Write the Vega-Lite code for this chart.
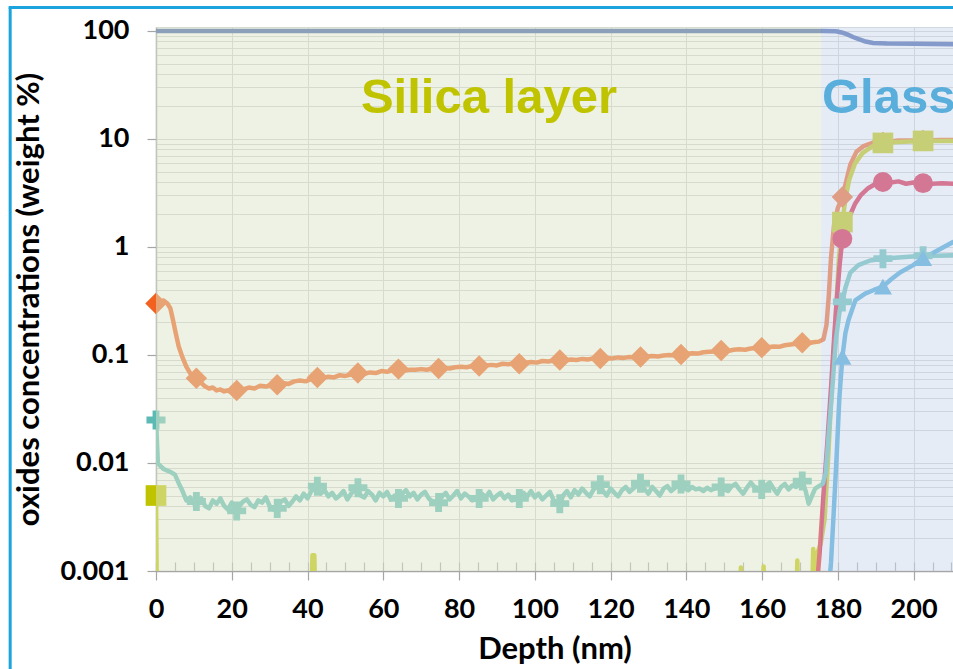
{
  "$schema": "https://vega.github.io/schema/vega-lite/v6.json",
  "width": 797,
  "height": 544,
  "autosize": {"type": "none"},
  "padding": {"left": 156, "top": 27, "right": 0, "bottom": 98},
  "background": "white",
  "config": {"view": {"stroke": "#D4D4D4", "strokeWidth": 1}, "font": "Lato"},
  "datasets": {
    "regions": [
      {"region": "Silica layer", "start": 0, "end": 175.6},
      {"region": "Glass", "start": 175.6, "end": 210.4}
    ],
    "curves": [
      {"series": "SiO2", "depth": 0, "conc": 100},
      {"series": "SiO2", "depth": 176, "conc": 99.8},
      {"series": "SiO2", "depth": 179.5, "conc": 99.5},
      {"series": "SiO2", "depth": 181, "conc": 97},
      {"series": "SiO2", "depth": 182.5, "conc": 93},
      {"series": "SiO2", "depth": 184, "conc": 88},
      {"series": "SiO2", "depth": 185.5, "conc": 84},
      {"series": "SiO2", "depth": 187, "conc": 80.5},
      {"series": "SiO2", "depth": 189.3, "conc": 77.5},
      {"series": "SiO2", "depth": 193, "conc": 76.5},
      {"series": "SiO2", "depth": 200, "conc": 76},
      {"series": "SiO2", "depth": 210.4, "conc": 75.5},

      {"series": "ox2", "depth": 0, "conc": 0.30},
      {"series": "ox2", "depth": 1, "conc": 0.31},
      {"series": "ox2", "depth": 2, "conc": 0.32},
      {"series": "ox2", "depth": 3, "conc": 0.30},
      {"series": "ox2", "depth": 3.8, "conc": 0.27},
      {"series": "ox2", "depth": 4.5, "conc": 0.21},
      {"series": "ox2", "depth": 5.2, "conc": 0.16},
      {"series": "ox2", "depth": 6, "conc": 0.12},
      {"series": "ox2", "depth": 7, "conc": 0.095},
      {"series": "ox2", "depth": 8, "conc": 0.078},
      {"series": "ox2", "depth": 9, "conc": 0.068},
      {"series": "ox2", "depth": 10.66, "conc": 0.061},
      {"series": "ox2", "depth": 12, "conc": 0.055},
      {"series": "ox2", "depth": 13, "conc": 0.051},
      {"series": "ox2", "depth": 14, "conc": 0.049},
      {"series": "ox2", "depth": 15, "conc": 0.050},
      {"series": "ox2", "depth": 16, "conc": 0.047},
      {"series": "ox2", "depth": 17, "conc": 0.048},
      {"series": "ox2", "depth": 18, "conc": 0.046},
      {"series": "ox2", "depth": 19, "conc": 0.047},
      {"series": "ox2", "depth": 20, "conc": 0.045},
      {"series": "ox2", "depth": 21.3, "conc": 0.047},
      {"series": "ox2", "depth": 23, "conc": 0.048},
      {"series": "ox2", "depth": 24.5, "conc": 0.050},
      {"series": "ox2", "depth": 26, "conc": 0.049},
      {"series": "ox2", "depth": 27.5, "conc": 0.052},
      {"series": "ox2", "depth": 29, "conc": 0.051},
      {"series": "ox2", "depth": 30.5, "conc": 0.053},
      {"series": "ox2", "depth": 32, "conc": 0.053},
      {"series": "ox2", "depth": 33.5, "conc": 0.055},
      {"series": "ox2", "depth": 35, "conc": 0.054},
      {"series": "ox2", "depth": 36.5, "conc": 0.057},
      {"series": "ox2", "depth": 38, "conc": 0.058},
      {"series": "ox2", "depth": 39.5, "conc": 0.057},
      {"series": "ox2", "depth": 41, "conc": 0.060},
      {"series": "ox2", "depth": 42.6, "conc": 0.062},
      {"series": "ox2", "depth": 44, "conc": 0.061},
      {"series": "ox2", "depth": 45.5, "conc": 0.063},
      {"series": "ox2", "depth": 47, "conc": 0.062},
      {"series": "ox2", "depth": 48.5, "conc": 0.065},
      {"series": "ox2", "depth": 50, "conc": 0.064},
      {"series": "ox2", "depth": 51.5, "conc": 0.066},
      {"series": "ox2", "depth": 53.3, "conc": 0.068},
      {"series": "ox2", "depth": 55, "conc": 0.067},
      {"series": "ox2", "depth": 56.5, "conc": 0.069},
      {"series": "ox2", "depth": 58, "conc": 0.068},
      {"series": "ox2", "depth": 59.5, "conc": 0.071},
      {"series": "ox2", "depth": 61, "conc": 0.070},
      {"series": "ox2", "depth": 62.5, "conc": 0.072},
      {"series": "ox2", "depth": 64, "conc": 0.074},
      {"series": "ox2", "depth": 65.5, "conc": 0.072},
      {"series": "ox2", "depth": 67, "conc": 0.073},
      {"series": "ox2", "depth": 68.5, "conc": 0.073},
      {"series": "ox2", "depth": 70, "conc": 0.074},
      {"series": "ox2", "depth": 71.5, "conc": 0.073},
      {"series": "ox2", "depth": 73, "conc": 0.075},
      {"series": "ox2", "depth": 74.6, "conc": 0.075},
      {"series": "ox2", "depth": 76, "conc": 0.076},
      {"series": "ox2", "depth": 77.5, "conc": 0.075},
      {"series": "ox2", "depth": 79, "conc": 0.077},
      {"series": "ox2", "depth": 80.5, "conc": 0.078},
      {"series": "ox2", "depth": 82, "conc": 0.077},
      {"series": "ox2", "depth": 83.5, "conc": 0.079},
      {"series": "ox2", "depth": 85.3, "conc": 0.079},
      {"series": "ox2", "depth": 87, "conc": 0.080},
      {"series": "ox2", "depth": 88.5, "conc": 0.081},
      {"series": "ox2", "depth": 90, "conc": 0.080},
      {"series": "ox2", "depth": 91.5, "conc": 0.083},
      {"series": "ox2", "depth": 93, "conc": 0.082},
      {"series": "ox2", "depth": 94.5, "conc": 0.084},
      {"series": "ox2", "depth": 95.9, "conc": 0.083},
      {"series": "ox2", "depth": 97.5, "conc": 0.085},
      {"series": "ox2", "depth": 99, "conc": 0.086},
      {"series": "ox2", "depth": 100.5, "conc": 0.085},
      {"series": "ox2", "depth": 102, "conc": 0.088},
      {"series": "ox2", "depth": 103.5, "conc": 0.087},
      {"series": "ox2", "depth": 105, "conc": 0.089},
      {"series": "ox2", "depth": 106.6, "conc": 0.090},
      {"series": "ox2", "depth": 108, "conc": 0.089},
      {"series": "ox2", "depth": 109.5, "conc": 0.091},
      {"series": "ox2", "depth": 111, "conc": 0.090},
      {"series": "ox2", "depth": 112.5, "conc": 0.092},
      {"series": "ox2", "depth": 114, "conc": 0.091},
      {"series": "ox2", "depth": 115.5, "conc": 0.093},
      {"series": "ox2", "depth": 117.3, "conc": 0.093},
      {"series": "ox2", "depth": 119, "conc": 0.094},
      {"series": "ox2", "depth": 120.5, "conc": 0.093},
      {"series": "ox2", "depth": 122, "conc": 0.095},
      {"series": "ox2", "depth": 123.5, "conc": 0.094},
      {"series": "ox2", "depth": 125, "conc": 0.096},
      {"series": "ox2", "depth": 126.5, "conc": 0.095},
      {"series": "ox2", "depth": 127.9, "conc": 0.096},
      {"series": "ox2", "depth": 129.5, "conc": 0.097},
      {"series": "ox2", "depth": 131, "conc": 0.098},
      {"series": "ox2", "depth": 132.5, "conc": 0.097},
      {"series": "ox2", "depth": 134, "conc": 0.099},
      {"series": "ox2", "depth": 135.5, "conc": 0.100},
      {"series": "ox2", "depth": 137, "conc": 0.099},
      {"series": "ox2", "depth": 138.6, "conc": 0.101},
      {"series": "ox2", "depth": 140, "conc": 0.102},
      {"series": "ox2", "depth": 141.5, "conc": 0.104},
      {"series": "ox2", "depth": 143, "conc": 0.103},
      {"series": "ox2", "depth": 144.5, "conc": 0.106},
      {"series": "ox2", "depth": 146, "conc": 0.107},
      {"series": "ox2", "depth": 147.5, "conc": 0.108},
      {"series": "ox2", "depth": 149.2, "conc": 0.110},
      {"series": "ox2", "depth": 151, "conc": 0.109},
      {"series": "ox2", "depth": 152.5, "conc": 0.112},
      {"series": "ox2", "depth": 154, "conc": 0.113},
      {"series": "ox2", "depth": 155.5, "conc": 0.112},
      {"series": "ox2", "depth": 157, "conc": 0.115},
      {"series": "ox2", "depth": 158.5, "conc": 0.116},
      {"series": "ox2", "depth": 159.9, "conc": 0.117},
      {"series": "ox2", "depth": 161.5, "conc": 0.118},
      {"series": "ox2", "depth": 163, "conc": 0.120},
      {"series": "ox2", "depth": 164.5, "conc": 0.119},
      {"series": "ox2", "depth": 166, "conc": 0.123},
      {"series": "ox2", "depth": 167.5, "conc": 0.125},
      {"series": "ox2", "depth": 169, "conc": 0.127},
      {"series": "ox2", "depth": 170.6, "conc": 0.130},
      {"series": "ox2", "depth": 172, "conc": 0.128},
      {"series": "ox2", "depth": 173.5, "conc": 0.131},
      {"series": "ox2", "depth": 175, "conc": 0.133},
      {"series": "ox2", "depth": 176.2, "conc": 0.14},
      {"series": "ox2", "depth": 177, "conc": 0.19},
      {"series": "ox2", "depth": 177.6, "conc": 0.35},
      {"series": "ox2", "depth": 178.2, "conc": 0.8},
      {"series": "ox2", "depth": 179, "conc": 1.6},
      {"series": "ox2", "depth": 180, "conc": 2.3},
      {"series": "ox2", "depth": 181.2, "conc": 2.9},
      {"series": "ox2", "depth": 182.3, "conc": 4.2},
      {"series": "ox2", "depth": 183.3, "conc": 5.8},
      {"series": "ox2", "depth": 184.9, "conc": 7.6},
      {"series": "ox2", "depth": 186.8, "conc": 8.6},
      {"series": "ox2", "depth": 189.5, "conc": 9.3},
      {"series": "ox2", "depth": 191.9, "conc": 9.3},
      {"series": "ox2", "depth": 196, "conc": 9.7},
      {"series": "ox2", "depth": 202.5, "conc": 9.7},
      {"series": "ox2", "depth": 207, "conc": 9.8},
      {"series": "ox2", "depth": 210.4, "conc": 9.8},

      {"series": "ox3", "depth": 0, "conc": 0.005},
      {"series": "ox3", "depth": 0.3, "conc": 0.0003},
      {"series": "ox3", "depth": 40.9, "conc": 0.0003},
      {"series": "ox3", "depth": 41.3, "conc": 0.0014},
      {"series": "ox3", "depth": 41.8, "conc": 0.0014},
      {"series": "ox3", "depth": 42.2, "conc": 0.0003},
      {"series": "ox3", "depth": 154.0, "conc": 0.0003},
      {"series": "ox3", "depth": 154.4, "conc": 0.00108},
      {"series": "ox3", "depth": 154.8, "conc": 0.0003},
      {"series": "ox3", "depth": 160.0, "conc": 0.0003},
      {"series": "ox3", "depth": 160.4, "conc": 0.0011},
      {"series": "ox3", "depth": 160.8, "conc": 0.0003},
      {"series": "ox3", "depth": 168.9, "conc": 0.0003},
      {"series": "ox3", "depth": 169.3, "conc": 0.00125},
      {"series": "ox3", "depth": 169.7, "conc": 0.0003},
      {"series": "ox3", "depth": 173.0, "conc": 0.0003},
      {"series": "ox3", "depth": 173.5, "conc": 0.0016},
      {"series": "ox3", "depth": 174.0, "conc": 0.0009},
      {"series": "ox3", "depth": 174.7, "conc": 0.0015},
      {"series": "ox3", "depth": 175.5, "conc": 0.0018},
      {"series": "ox3", "depth": 176.5, "conc": 0.003},
      {"series": "ox3", "depth": 177.5, "conc": 0.012},
      {"series": "ox3", "depth": 178.5, "conc": 0.06},
      {"series": "ox3", "depth": 179.5, "conc": 0.25},
      {"series": "ox3", "depth": 180.3, "conc": 0.8},
      {"series": "ox3", "depth": 181.2, "conc": 1.7},
      {"series": "ox3", "depth": 182.0, "conc": 2.8},
      {"series": "ox3", "depth": 183.0, "conc": 4.2},
      {"series": "ox3", "depth": 184.5, "conc": 5.9},
      {"series": "ox3", "depth": 186.5, "conc": 7.4},
      {"series": "ox3", "depth": 189, "conc": 8.5},
      {"series": "ox3", "depth": 191.9, "conc": 9.2},
      {"series": "ox3", "depth": 196, "conc": 9.4},
      {"series": "ox3", "depth": 202.5, "conc": 9.6},
      {"series": "ox3", "depth": 210.4, "conc": 9.6},

      {"series": "ox4", "depth": 165, "conc": 0.0002},
      {"series": "ox4", "depth": 174.3, "conc": 0.0006},
      {"series": "ox4", "depth": 175.2, "conc": 0.0015},
      {"series": "ox4", "depth": 176.1, "conc": 0.0045},
      {"series": "ox4", "depth": 177.2, "conc": 0.015},
      {"series": "ox4", "depth": 178.2, "conc": 0.05},
      {"series": "ox4", "depth": 179, "conc": 0.14},
      {"series": "ox4", "depth": 179.7, "conc": 0.32},
      {"series": "ox4", "depth": 180.5, "conc": 0.7},
      {"series": "ox4", "depth": 181.2, "conc": 1.19},
      {"series": "ox4", "depth": 182.2, "conc": 1.55},
      {"series": "ox4", "depth": 183.3, "conc": 2.0},
      {"series": "ox4", "depth": 184.5, "conc": 2.5},
      {"series": "ox4", "depth": 186, "conc": 3.0},
      {"series": "ox4", "depth": 188, "conc": 3.5},
      {"series": "ox4", "depth": 190, "conc": 3.85},
      {"series": "ox4", "depth": 191.9, "conc": 4.0},
      {"series": "ox4", "depth": 194, "conc": 3.95},
      {"series": "ox4", "depth": 196, "conc": 4.05},
      {"series": "ox4", "depth": 198, "conc": 3.85},
      {"series": "ox4", "depth": 200, "conc": 3.95},
      {"series": "ox4", "depth": 202.5, "conc": 3.9},
      {"series": "ox4", "depth": 205, "conc": 3.85},
      {"series": "ox4", "depth": 207.5, "conc": 3.9},
      {"series": "ox4", "depth": 210.4, "conc": 3.85},

      {"series": "ox5", "depth": 0, "conc": 0.025},
      {"series": "ox5", "depth": 0.5, "conc": 0.0100},
      {"series": "ox5", "depth": 1, "conc": 0.0095},
      {"series": "ox5", "depth": 2, "conc": 0.0088},
      {"series": "ox5", "depth": 3, "conc": 0.0085},
      {"series": "ox5", "depth": 4, "conc": 0.0082},
      {"series": "ox5", "depth": 5, "conc": 0.0078},
      {"series": "ox5", "depth": 6, "conc": 0.0065},
      {"series": "ox5", "depth": 7, "conc": 0.0055},
      {"series": "ox5", "depth": 8, "conc": 0.0045},
      {"series": "ox5", "depth": 9, "conc": 0.0048},
      {"series": "ox5", "depth": 10, "conc": 0.0042},
      {"series": "ox5", "depth": 10.66, "conc": 0.0044},
      {"series": "ox5", "depth": 12, "conc": 0.0047},
      {"series": "ox5", "depth": 13, "conc": 0.0040},
      {"series": "ox5", "depth": 14, "conc": 0.0038},
      {"series": "ox5", "depth": 15, "conc": 0.0045},
      {"series": "ox5", "depth": 16, "conc": 0.0042},
      {"series": "ox5", "depth": 17, "conc": 0.0047},
      {"series": "ox5", "depth": 18, "conc": 0.0040},
      {"series": "ox5", "depth": 19, "conc": 0.0037},
      {"series": "ox5", "depth": 20, "conc": 0.0043},
      {"series": "ox5", "depth": 21.3, "conc": 0.0036},
      {"series": "ox5", "depth": 22, "conc": 0.0040},
      {"series": "ox5", "depth": 23, "conc": 0.0044},
      {"series": "ox5", "depth": 24, "conc": 0.0046},
      {"series": "ox5", "depth": 25, "conc": 0.0041},
      {"series": "ox5", "depth": 26, "conc": 0.0039},
      {"series": "ox5", "depth": 27, "conc": 0.0045},
      {"series": "ox5", "depth": 28, "conc": 0.0043},
      {"series": "ox5", "depth": 29, "conc": 0.0048},
      {"series": "ox5", "depth": 30, "conc": 0.0040},
      {"series": "ox5", "depth": 31, "conc": 0.0037},
      {"series": "ox5", "depth": 32, "conc": 0.0038},
      {"series": "ox5", "depth": 33, "conc": 0.0044},
      {"series": "ox5", "depth": 34, "conc": 0.0046},
      {"series": "ox5", "depth": 35, "conc": 0.0040},
      {"series": "ox5", "depth": 36, "conc": 0.0044},
      {"series": "ox5", "depth": 37, "conc": 0.0049},
      {"series": "ox5", "depth": 38, "conc": 0.0045},
      {"series": "ox5", "depth": 39, "conc": 0.0052},
      {"series": "ox5", "depth": 40, "conc": 0.0047},
      {"series": "ox5", "depth": 41, "conc": 0.0055},
      {"series": "ox5", "depth": 42.6, "conc": 0.0061},
      {"series": "ox5", "depth": 43.5, "conc": 0.0052},
      {"series": "ox5", "depth": 44.5, "conc": 0.0056},
      {"series": "ox5", "depth": 45.5, "conc": 0.0049},
      {"series": "ox5", "depth": 46.5, "conc": 0.0053},
      {"series": "ox5", "depth": 47.5, "conc": 0.0047},
      {"series": "ox5", "depth": 48.5, "conc": 0.0050},
      {"series": "ox5", "depth": 49.5, "conc": 0.0055},
      {"series": "ox5", "depth": 50.5, "conc": 0.0046},
      {"series": "ox5", "depth": 51.5, "conc": 0.0052},
      {"series": "ox5", "depth": 52.5, "conc": 0.0056},
      {"series": "ox5", "depth": 53.3, "conc": 0.0059},
      {"series": "ox5", "depth": 54, "conc": 0.0050},
      {"series": "ox5", "depth": 55, "conc": 0.0048},
      {"series": "ox5", "depth": 56, "conc": 0.0055},
      {"series": "ox5", "depth": 57, "conc": 0.0051},
      {"series": "ox5", "depth": 58, "conc": 0.0045},
      {"series": "ox5", "depth": 59, "conc": 0.0053},
      {"series": "ox5", "depth": 60, "conc": 0.0049},
      {"series": "ox5", "depth": 61, "conc": 0.0054},
      {"series": "ox5", "depth": 62, "conc": 0.0046},
      {"series": "ox5", "depth": 63, "conc": 0.0050},
      {"series": "ox5", "depth": 64, "conc": 0.0047},
      {"series": "ox5", "depth": 65, "conc": 0.0052},
      {"series": "ox5", "depth": 66, "conc": 0.0056},
      {"series": "ox5", "depth": 67, "conc": 0.0049},
      {"series": "ox5", "depth": 68, "conc": 0.0053},
      {"series": "ox5", "depth": 69, "conc": 0.0046},
      {"series": "ox5", "depth": 70, "conc": 0.0051},
      {"series": "ox5", "depth": 71, "conc": 0.0054},
      {"series": "ox5", "depth": 72, "conc": 0.0047},
      {"series": "ox5", "depth": 73, "conc": 0.0044},
      {"series": "ox5", "depth": 74.6, "conc": 0.0043},
      {"series": "ox5", "depth": 75.5, "conc": 0.0049},
      {"series": "ox5", "depth": 76.5, "conc": 0.0053},
      {"series": "ox5", "depth": 77.5, "conc": 0.0046},
      {"series": "ox5", "depth": 78.5, "conc": 0.0050},
      {"series": "ox5", "depth": 79.5, "conc": 0.0055},
      {"series": "ox5", "depth": 80.5, "conc": 0.0047},
      {"series": "ox5", "depth": 81.5, "conc": 0.0052},
      {"series": "ox5", "depth": 82.5, "conc": 0.0049},
      {"series": "ox5", "depth": 83.5, "conc": 0.0045},
      {"series": "ox5", "depth": 85.3, "conc": 0.0047},
      {"series": "ox5", "depth": 86, "conc": 0.0052},
      {"series": "ox5", "depth": 87, "conc": 0.0048},
      {"series": "ox5", "depth": 88, "conc": 0.0054},
      {"series": "ox5", "depth": 89, "conc": 0.0046},
      {"series": "ox5", "depth": 90, "conc": 0.0050},
      {"series": "ox5", "depth": 91, "conc": 0.0053},
      {"series": "ox5", "depth": 92, "conc": 0.0047},
      {"series": "ox5", "depth": 93, "conc": 0.0051},
      {"series": "ox5", "depth": 94, "conc": 0.0045},
      {"series": "ox5", "depth": 95.9, "conc": 0.0047},
      {"series": "ox5", "depth": 97, "conc": 0.0053},
      {"series": "ox5", "depth": 98, "conc": 0.0049},
      {"series": "ox5", "depth": 99, "conc": 0.0055},
      {"series": "ox5", "depth": 100, "conc": 0.0048},
      {"series": "ox5", "depth": 101, "conc": 0.0052},
      {"series": "ox5", "depth": 102, "conc": 0.0046},
      {"series": "ox5", "depth": 103, "conc": 0.0050},
      {"series": "ox5", "depth": 104, "conc": 0.0054},
      {"series": "ox5", "depth": 105, "conc": 0.0045},
      {"series": "ox5", "depth": 106.6, "conc": 0.0042},
      {"series": "ox5", "depth": 107.5, "conc": 0.0050},
      {"series": "ox5", "depth": 108.5, "conc": 0.0055},
      {"series": "ox5", "depth": 109.5, "conc": 0.0048},
      {"series": "ox5", "depth": 110.5, "conc": 0.0056},
      {"series": "ox5", "depth": 111.5, "conc": 0.0051},
      {"series": "ox5", "depth": 112.5, "conc": 0.0058},
      {"series": "ox5", "depth": 113.5, "conc": 0.0053},
      {"series": "ox5", "depth": 114.5, "conc": 0.0049},
      {"series": "ox5", "depth": 115.5, "conc": 0.0057},
      {"series": "ox5", "depth": 117.3, "conc": 0.0063},
      {"series": "ox5", "depth": 118, "conc": 0.0055},
      {"series": "ox5", "depth": 119, "conc": 0.0050},
      {"series": "ox5", "depth": 120, "conc": 0.0058},
      {"series": "ox5", "depth": 121, "conc": 0.0053},
      {"series": "ox5", "depth": 122, "conc": 0.0049},
      {"series": "ox5", "depth": 123, "conc": 0.0056},
      {"series": "ox5", "depth": 124, "conc": 0.0060},
      {"series": "ox5", "depth": 125, "conc": 0.0054},
      {"series": "ox5", "depth": 126, "conc": 0.0058},
      {"series": "ox5", "depth": 127.9, "conc": 0.0065},
      {"series": "ox5", "depth": 129, "conc": 0.0057},
      {"series": "ox5", "depth": 130, "conc": 0.0052},
      {"series": "ox5", "depth": 131, "conc": 0.0060},
      {"series": "ox5", "depth": 132, "conc": 0.0055},
      {"series": "ox5", "depth": 133, "conc": 0.0050},
      {"series": "ox5", "depth": 134, "conc": 0.0058},
      {"series": "ox5", "depth": 135, "conc": 0.0061},
      {"series": "ox5", "depth": 136, "conc": 0.0055},
      {"series": "ox5", "depth": 137, "conc": 0.0059},
      {"series": "ox5", "depth": 138.6, "conc": 0.0064},
      {"series": "ox5", "depth": 139.5, "conc": 0.0058},
      {"series": "ox5", "depth": 140.5, "conc": 0.0056},
      {"series": "ox5", "depth": 141.5, "conc": 0.0060},
      {"series": "ox5", "depth": 142.5, "conc": 0.0057},
      {"series": "ox5", "depth": 143.5, "conc": 0.0058},
      {"series": "ox5", "depth": 144.5, "conc": 0.0055},
      {"series": "ox5", "depth": 145.5, "conc": 0.0059},
      {"series": "ox5", "depth": 146.5, "conc": 0.0056},
      {"series": "ox5", "depth": 147.5, "conc": 0.0058},
      {"series": "ox5", "depth": 149.2, "conc": 0.0060},
      {"series": "ox5", "depth": 150, "conc": 0.0057},
      {"series": "ox5", "depth": 151, "conc": 0.0055},
      {"series": "ox5", "depth": 152, "conc": 0.0061},
      {"series": "ox5", "depth": 153, "conc": 0.0064},
      {"series": "ox5", "depth": 154, "conc": 0.0057},
      {"series": "ox5", "depth": 155, "conc": 0.0052},
      {"series": "ox5", "depth": 156, "conc": 0.0059},
      {"series": "ox5", "depth": 157, "conc": 0.0066},
      {"series": "ox5", "depth": 158, "conc": 0.0060},
      {"series": "ox5", "depth": 159.9, "conc": 0.0057},
      {"series": "ox5", "depth": 161, "conc": 0.0062},
      {"series": "ox5", "depth": 162, "conc": 0.0066},
      {"series": "ox5", "depth": 163, "conc": 0.0058},
      {"series": "ox5", "depth": 164, "conc": 0.0052},
      {"series": "ox5", "depth": 165, "conc": 0.0060},
      {"series": "ox5", "depth": 166, "conc": 0.0064},
      {"series": "ox5", "depth": 167, "conc": 0.0057},
      {"series": "ox5", "depth": 168, "conc": 0.0062},
      {"series": "ox5", "depth": 169, "conc": 0.0060},
      {"series": "ox5", "depth": 170.6, "conc": 0.0068},
      {"series": "ox5", "depth": 171.5, "conc": 0.0055},
      {"series": "ox5", "depth": 172.3, "conc": 0.0042},
      {"series": "ox5", "depth": 173, "conc": 0.0048},
      {"series": "ox5", "depth": 174, "conc": 0.0058},
      {"series": "ox5", "depth": 175, "conc": 0.0061},
      {"series": "ox5", "depth": 176, "conc": 0.0064},
      {"series": "ox5", "depth": 176.8, "conc": 0.0080},
      {"series": "ox5", "depth": 177.5, "conc": 0.017},
      {"series": "ox5", "depth": 178.5, "conc": 0.047},
      {"series": "ox5", "depth": 179.5, "conc": 0.14},
      {"series": "ox5", "depth": 180.5, "conc": 0.26},
      {"series": "ox5", "depth": 181.2, "conc": 0.31},
      {"series": "ox5", "depth": 182, "conc": 0.42},
      {"series": "ox5", "depth": 183.3, "conc": 0.58},
      {"series": "ox5", "depth": 185.4, "conc": 0.68},
      {"series": "ox5", "depth": 188.5, "conc": 0.75},
      {"series": "ox5", "depth": 191.9, "conc": 0.78},
      {"series": "ox5", "depth": 196, "conc": 0.80},
      {"series": "ox5", "depth": 202.5, "conc": 0.83},
      {"series": "ox5", "depth": 206, "conc": 0.83},
      {"series": "ox5", "depth": 210.4, "conc": 0.84},

      {"series": "ox6", "depth": 170, "conc": 0.0002},
      {"series": "ox6", "depth": 177.5, "conc": 0.0006},
      {"series": "ox6", "depth": 178.2, "conc": 0.0012},
      {"series": "ox6", "depth": 179, "conc": 0.004},
      {"series": "ox6", "depth": 179.7, "conc": 0.012},
      {"series": "ox6", "depth": 180.4, "conc": 0.04},
      {"series": "ox6", "depth": 181.2, "conc": 0.096},
      {"series": "ox6", "depth": 182, "conc": 0.16},
      {"series": "ox6", "depth": 182.8, "conc": 0.21},
      {"series": "ox6", "depth": 184.6, "conc": 0.32},
      {"series": "ox6", "depth": 187.2, "conc": 0.37},
      {"series": "ox6", "depth": 189.5, "conc": 0.40},
      {"series": "ox6", "depth": 191.9, "conc": 0.43},
      {"series": "ox6", "depth": 194, "conc": 0.50},
      {"series": "ox6", "depth": 196.4, "conc": 0.58},
      {"series": "ox6", "depth": 199.9, "conc": 0.68},
      {"series": "ox6", "depth": 202.5, "conc": 0.79},
      {"series": "ox6", "depth": 205.1, "conc": 0.88},
      {"series": "ox6", "depth": 207.5, "conc": 0.98},
      {"series": "ox6", "depth": 210.4, "conc": 1.11}
    ]
  },
  "layer": [
    {
      "data": {"name": "curves"},
      "mark": {"type": "line", "clip": true, "strokeWidth": 4.5, "strokeJoin": "round", "strokeCap": "round"},
      "encoding": {
        "x": {
          "field": "depth", "type": "quantitative",
          "scale": {"domain": [0, 210.4], "nice": false, "zero": false},
          "axis": {
            "orient": "bottom",
            "values": [0, 20, 40, 60, 80, 100, 120, 140, 160, 180, 200],
            "grid": true, "gridColor": "#D0D0D0", "gridWidth": 1,
            "tickSize": 9, "tickColor": "#A6A6A6", "tickWidth": 1.2,
            "domainColor": "#A6A6A6", "domainWidth": 1.5,
            "labelFont": "Lato", "labelFontWeight": "bold", "labelFontSize": 27, "labelColor": "#000000",
            "labelPadding": 16, "labelFlush": false, "labelOverlap": false,
            "title": "Depth (nm)", "titleFont": "Lato", "titleFontWeight": "bold", "titleFontSize": 31, "titleColor": "#000000", "titlePadding": 12
          }
        },
        "y": {
          "field": "conc", "type": "quantitative",
          "scale": {"type": "log", "domain": [0.001, 108.9], "nice": false},
          "axis": {
            "values": [0.001, 0.002, 0.003, 0.004, 0.005, 0.006, 0.007, 0.008, 0.009, 0.01, 0.02, 0.03, 0.04, 0.05, 0.06, 0.07, 0.08, 0.09, 0.1, 0.2, 0.3, 0.4, 0.5, 0.6, 0.7, 0.8, 0.9, 1, 2, 3, 4, 5, 6, 7, 8, 9, 10, 20, 30, 40, 50, 60, 70, 80, 90, 100],
            "labelExpr": "indexof([0.001, 0.01, 0.1, 1, 10, 100], datum.value) >= 0 ? format(datum.value, '~g') : ''",
            "tickColor": {"condition": {"test": "indexof([0.001, 0.01, 0.1, 1, 10, 100], datum.value) >= 0", "value": "#A6A6A6"}, "value": "transparent"},
            "tickSize": 9, "tickWidth": 1.2,
            "grid": true, "gridColor": "#D0D0D0", "gridWidth": 1,
            "domainColor": "#A6A6A6", "domainWidth": 1.5,
            "labelFont": "Lato", "labelFontWeight": "bold", "labelFontSize": 27, "labelColor": "#000000",
            "labelPadding": 18, "labelFlush": false, "labelOverlap": false,
            "title": "oxides concentrations (weight %)", "titleFont": "Lato", "titleFontWeight": "bold", "titleFontSize": 31, "titleColor": "#000000", "titlePadding": 14
          }
        },
        "color": {
          "field": "series", "type": "nominal", "legend": null,
          "scale": {"domain": ["SiO2", "ox2", "ox3", "ox4", "ox5", "ox6"], "range": ["#3A5BA8", "#F26120", "#C0C400", "#D8153C", "#5CBAB4", "#3EA2D8"]}
        },
        "strokeWidth": {
          "field": "series", "type": "nominal", "legend": null,
          "scale": {"domain": ["SiO2", "ox2", "ox3", "ox4", "ox5", "ox6"], "range": [5.5, 4, 4.5, 4, 5, 4]}
        }
      }
    },
    {
      "data": {"name": "curves"},
      "transform": [
        {"filter": "indexof([0, 10.66, 21.3, 32, 42.6, 53.3, 64, 74.6, 85.3, 95.9, 106.6, 117.3, 127.9, 138.6, 149.2, 159.9, 170.6, 181.2, 191.9, 202.5], datum.depth) >= 0 && datum.series != 'SiO2' && datum.conc >= 0.001"}
      ],
      "mark": {"type": "point", "filled": true, "opacity": 1, "clip": false},
      "encoding": {
        "x": {
          "field": "depth", "type": "quantitative",
          "axis": {
            "orient": "bottom",
            "values": [0, 5, 10, 15, 20, 25, 30, 35, 40, 45, 50, 55, 60, 65, 70, 75, 80, 85, 90, 95, 100, 105, 110, 115, 120, 125, 130, 135, 140, 145, 150, 155, 160, 165, 170, 175, 180, 185, 190, 195, 200, 205, 210],
            "tickSize": -9, "tickColor": "#A6A6A6", "tickWidth": 1.2,
            "labels": false, "grid": false, "domain": false, "title": null
          }
        },
        "y": {"field": "conc", "type": "quantitative"},
        "color": {
          "field": "series", "type": "nominal", "legend": null,
          "scale": {"domain": ["SiO2", "ox2", "ox3", "ox4", "ox5", "ox6"], "range": ["#3A5BA8", "#F26120", "#C0C400", "#D8153C", "#5CBAB4", "#3EA2D8"]}
        },
        "shape": {
          "field": "series", "type": "nominal", "legend": null,
          "scale": {"domain": ["ox2", "ox3", "ox4", "ox5", "ox6"], "range": ["diamond", "square", "circle", "M-1,-0.36L-0.36,-0.36L-0.36,-1L0.36,-1L0.36,-0.36L1,-0.36L1,0.36L0.36,0.36L0.36,1L-0.36,1L-0.36,0.36L-1,0.36Z", "triangle-up"]}
        },
        "size": {
          "field": "series", "type": "nominal", "legend": null,
          "scale": {"domain": ["ox2", "ox3", "ox4", "ox5", "ox6"], "range": [460, 330, 370, 500, 430]}
        }
      }
    },
    {
      "data": {"name": "regions"},
      "mark": {"type": "rect", "opacity": 0.5, "clip": false},
      "encoding": {
        "x": {"field": "start", "type": "quantitative", "axis": null},
        "x2": {"field": "end"},
        "y": {"datum": 0.001, "type": "quantitative"},
        "y2": {"datum": 108.9},
        "fill": {
          "field": "region", "type": "nominal", "legend": null,
          "scale": {"domain": ["Silica layer", "Glass"], "range": ["#DDE5C9", "#CDD9EB"]}
        }
      }
    },
    {
      "data": {"values": [{"label": "Silica layer"}]},
      "mark": {"type": "text", "font": "Liberation Sans", "fontWeight": "bold", "fontSize": 49, "color": "#C0C400", "align": "center", "baseline": "alphabetic"},
      "encoding": {
        "x": {"datum": 87.9, "type": "quantitative", "axis": null},
        "y": {"datum": 17.4, "type": "quantitative"},
        "text": {"field": "label"}
      }
    },
    {
      "data": {"values": [{"label": "Glass"}]},
      "mark": {"type": "text", "font": "Liberation Sans", "fontWeight": "bold", "fontSize": 49, "color": "#5AAEDB", "align": "left", "baseline": "alphabetic"},
      "encoding": {
        "x": {"datum": 175.8, "type": "quantitative", "axis": null},
        "y": {"datum": 17.4, "type": "quantitative"},
        "text": {"field": "label"}
      }
    },
    {
      "data": {"values": [{"frame": "left"}]},
      "mark": {"type": "rule", "clip": false, "color": "#1AA3DC", "strokeWidth": 3},
      "encoding": {
        "x": {"datum": -38.5, "type": "quantitative", "axis": null},
        "y": {"datum": 165, "type": "quantitative"},
        "y2": {"datum": 0.00001}
      }
    },
    {
      "data": {"values": [{"frame": "top"}]},
      "mark": {"type": "rule", "clip": false, "color": "#1AA3DC", "strokeWidth": 3},
      "encoding": {
        "x": {"datum": -38.9, "type": "quantitative", "axis": null},
        "x2": {"datum": 300},
        "y": {"datum": 165, "type": "quantitative"}
      }
    }
  ],
  "resolve": {"axis": {"x": "independent"}}
}
